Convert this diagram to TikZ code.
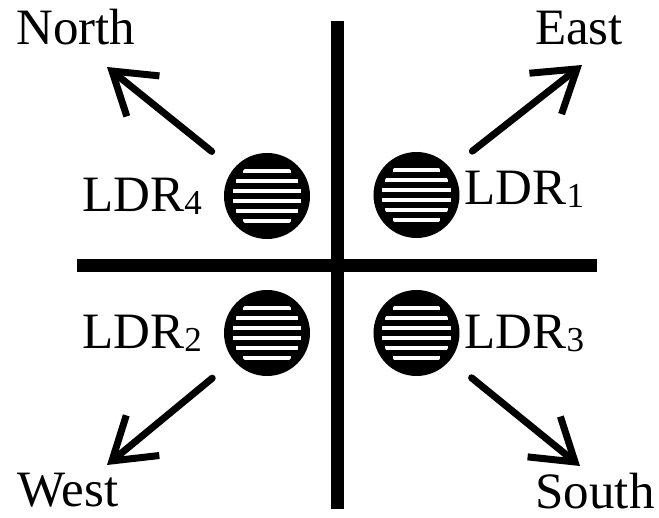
\documentclass[tikz,border=0pt]{standalone}
\usepackage{fontspec}
\setmainfont{Liberation Serif}
\usetikzlibrary{arrows.meta,positioning,calc}
\newcommand\ldrsub[1]{\raisebox{-3pt}{\fontsize{35}{35}\selectfont #1}}

\begin{document}
\begin{tikzpicture}[x=1pt, y=-1pt,
  every node/.style={font=\fontsize{51}{60}\selectfont},
  ldr/.style={circle, draw, line width=8pt, minimum size=78pt, inner sep=0pt,
    fill=black,
    path picture={\foreach \s in {-25,-15,...,25}
      \draw[white, line width=4.5pt]
        ($(path picture bounding box.center)+({-sqrt(1190-\s*\s)},\s)$) --
        ($(path picture bounding box.center)+({sqrt(1190-\s*\s)},\s)$);}},
  lbl/.style={inner sep=0pt},
  richting/.style={inner sep=0pt, anchor=base},
  axis/.style={line width=13pt},
  pijl/.style={-{Straight Barb[length=40pt, width=52pt]}, line width=7pt,
    line cap=round, shorten <=28pt}
]
\useasboundingbox (0,0) rectangle (659,518);
\draw[axis] (337.5,21) -- (337.5,509);
\draw[axis] (77,265.5) -- (597,265.5);
\node[ldr] (LDR4) at (267,196) {};
\node[ldr] (LDR1) at (416.5,195) {};
\node[ldr] (LDR2) at (267,333) {};
\node[ldr] (LDR3) at (416.5,333) {};
\node[lbl, left=22pt of LDR4] (lblLDR4) {LDR\ldrsub{4}};
\node[lbl, right=5pt of LDR1, yshift=6pt] (lblLDR1) {LDR\ldrsub{1}};
\node[lbl, left=22pt of LDR2] (lblLDR2) {LDR\ldrsub{2}};
\node[lbl, right=5pt of LDR3] (lblLDR3) {LDR\ldrsub{3}};
\node[richting] (North) at (76,45) {North};
\node[richting] (East) at (579,45) {East};
\node[richting] (West) at (68,507) {West};
\node[richting] (South) at (595,508) {South};
\coordinate (tipN) at (107,67);
\coordinate (tipE) at (582,65);
\coordinate (tipW) at (107,465);
\coordinate (tipS) at (580,466);
\draw[pijl] (LDR4) -- (tipN);
\draw[pijl] (LDR1) -- (tipE);
\draw[pijl] (LDR2) -- (tipW);
\draw[pijl] (LDR3) -- (tipS);
\end{tikzpicture}
\end{document}
